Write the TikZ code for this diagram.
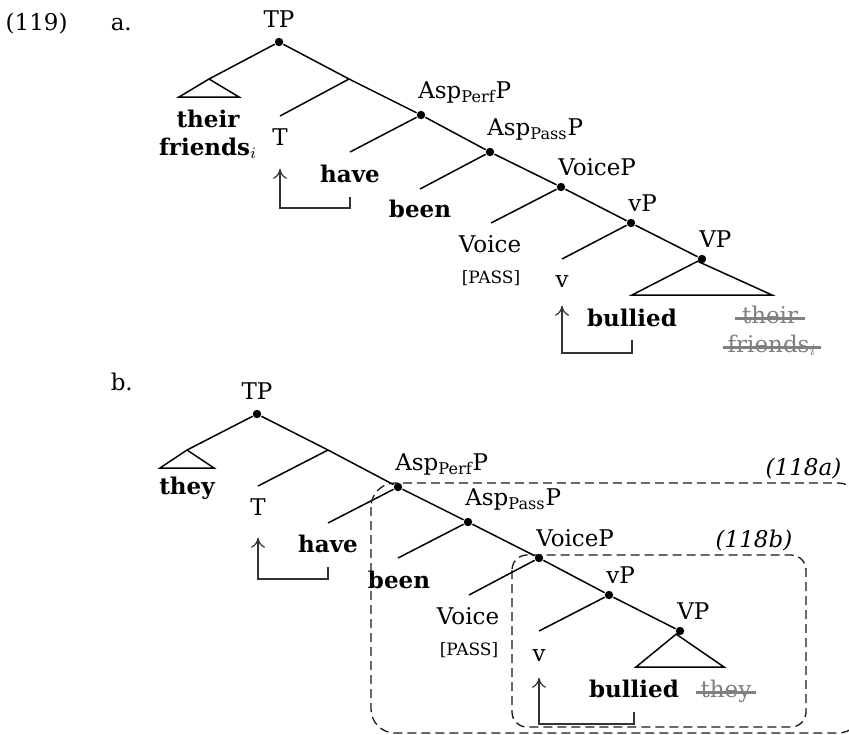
\documentclass[tikz,border=0pt]{standalone}
\usepackage{fontspec}
\setmainfont{DejaVu Serif}
\usetikzlibrary{arrows.meta,positioning}

\begin{document}
\begin{tikzpicture}[x=0.5pt, y=-0.5pt, line width=0.75pt,
    font=\fontsize{11.5}{13.8}\selectfont,
    dot/.style={circle, fill, inner sep=0pt, minimum size=4.2pt},
    cat/.style={inner sep=0pt},
    head/.style={anchor=base, inner sep=0pt},
    lex/.style={anchor=base, inner sep=0pt, font=\fontsize{11.5}{13.8}\selectfont\bfseries},
    feat/.style={anchor=base, inner sep=0pt, font=\fontsize{8.5}{10}\selectfont},
    trace/.style={anchor=base, inner sep=0pt, text=black!50},
    strike/.style={draw=black!50, line width=1.6pt},
    move/.style={draw=black!80, line width=0.6pt, -{To[length=5pt,width=7pt]}},
    phasebox/.style={draw=black!90, line width=0.65pt, dash pattern=on 4.5pt off 2.5pt},
    tag/.style={anchor=base east, inner sep=0pt, font=\fontsize{11.5}{13.8}\selectfont\itshape}]
  \path[use as bounding box] (0,0) rectangle (849,734);
  \clip (0,0) rectangle (849,734);

  % (119a)
  \node[anchor=base west, inner sep=0pt] (num) at (5,30) {(119)};
  \node[anchor=base west, inner sep=0pt] (exA) at (110,30) {a.};
  \node[dot] (tpA) at (279,42) {};
  \node[cat, above=4.5pt of tpA] {TP};
  \coordinate (subjA) at (209,79);
  \coordinate (midA) at (349,79);
  \node[dot] (perfA) at (421,115) {};
  \node[dot] (passA) at (490,152) {};
  \node[dot] (voiceA) at (561,187) {};
  \node[dot] (vpA) at (631,223) {};
  \node[dot] (VPA) at (702,259) {};
  \node[cat, above right=3.5pt and -3.5pt of perfA] {Asp\textsubscript{Perf}P};
  \node[cat, above right=3.5pt and -3.5pt of passA] {Asp\textsubscript{Pass}P};
  \node[cat, above right=3.5pt and -3.5pt of voiceA] {VoiceP};
  \node[cat, above right=3.5pt and -3.5pt of vpA] {vP};
  \node[cat, above right=3.5pt and -3.5pt of VPA] {VP};
  \draw (tpA) -- (midA) -- (perfA) -- (passA) -- (voiceA) -- (vpA) -- (VPA);
  \draw (tpA) -- (subjA);
  \draw (subjA) -- ++(-30,18) -- ++(60,0) -- cycle;
  \draw (VPA) -- ++(-70,36) -- ++(140,0) -- cycle;
  \coordinate (tA) at (280,116);
  \coordinate (haveA) at (350,152);
  \coordinate (beenA) at (420,189);
  \coordinate (voiA) at (491,223);
  \coordinate (vA) at (562,259);
  \draw (midA) -- (tA);
  \draw (perfA) -- (haveA);
  \draw (passA) -- (beenA);
  \draw (voiceA) -- (voiA);
  \draw (vpA) -- (vA);
  \node[lex] (theirA) at (208,127) {their};
  \node[lex] (friendsA) at (208,155) {friends$_i$};
  \node[head] (hTA) at (280,145) {T};
  \node[lex] (hvA) at (350,182) {have};
  \node[lex] (bnA) at (420,217) {been};
  \node[head] (hVoiA) at (490,252) {Voice};
  \node[feat] (passfA) at (491,283) {[PASS]};
  \node[head] (hvvA) at (562,287) {v};
  \node[lex] (bulA) at (632,326) {bullied};
  \node[trace] (trtA) at (770,323) {their};
  \node[trace] (trfA) at (772,352) {friends$_i$};
  \draw[strike] ([shift={(-3pt,2.4pt)}]trtA.base west) -- ([shift={(3pt,2.4pt)}]trtA.base east);
  \draw[strike] ([shift={(-2pt,2.4pt)}]trfA.base west) -- ([shift={(2pt,2.4pt)}]trfA.base east);
  \draw[move] ([yshift=-7pt]hvA.south) -- ++(0,11) -| ([yshift=-11.5pt]hTA.south);
  \draw[move] ([yshift=-6.5pt]bulA.south) -- ++(0,13) -| ([yshift=-9pt]hvvA.south);

  % (119b)
  \node[anchor=base west, inner sep=0pt] (exB) at (110,390) {b.};
  \node[dot] (tpB) at (257,414) {};
  \node[cat, above=4.5pt of tpB] {TP};
  \coordinate (subjB) at (187,450);
  \coordinate (midB) at (328,450);
  \node[dot] (perfB) at (398,487) {};
  \node[dot] (passB) at (468,522) {};
  \node[dot] (voiceB) at (539,558) {};
  \node[dot] (vpB) at (609,595) {};
  \node[dot] (VPB) at (680,631) {};
  \node[cat, above right=3.5pt and -3.5pt of perfB] {Asp\textsubscript{Perf}P};
  \node[cat, above right=3.5pt and -3.5pt of passB] {Asp\textsubscript{Pass}P};
  \node[cat, above right=3.5pt and -3.5pt of voiceB] {VoiceP};
  \node[cat, above right=3.5pt and -3.5pt of vpB] {vP};
  \node[cat, above right=3.5pt and -3.5pt of VPB] {VP};
  \draw (tpB) -- (midB) -- (perfB) -- (passB) -- (voiceB) -- (vpB) -- (VPB);
  \draw (tpB) -- (subjB);
  \draw (subjB) -- ++(-27,18) -- ++(54,0) -- cycle;
  \draw (VPB) -- ++(-44,36) -- ++(88,0) -- cycle;
  \coordinate (tB) at (258,486);
  \coordinate (haveB) at (328,523);
  \coordinate (beenB) at (398,558);
  \coordinate (voiB) at (469,595);
  \coordinate (vB) at (539,631);
  \draw (midB) -- (tB);
  \draw (perfB) -- (haveB);
  \draw (passB) -- (beenB);
  \draw (voiceB) -- (voiB);
  \draw (vpB) -- (vB);
  \node[lex] (theyB) at (187,494) {they};
  \node[head] (hTB) at (258,515) {T};
  \node[lex] (hvB) at (328,552) {have};
  \node[lex] (bnB) at (399,588) {been};
  \node[head] (hVoiB) at (468,624) {Voice};
  \node[feat] (passfB) at (469,655) {[PASS]};
  \node[head] (hvvB) at (539,661) {v};
  \node[lex] (bulB) at (634,697) {bullied};
  \node[trace] (trB) at (726,697) {they};
  \draw[strike] ([shift={(-2pt,2.4pt)}]trB.base west) -- ([shift={(2pt,2.4pt)}]trB.base east);
  \draw[move] ([yshift=-7pt]hvB.south) -- ++(0,12) -| ([yshift=-11pt]hTB.south);
  \draw[move] ([yshift=-7pt]bulB.south) -- ++(0,12) -| ([yshift=-8pt]hvvB.south);

  % phases
  \draw[phasebox, rounded corners=12pt] (371,483) rectangle (862,733);
  \draw[phasebox, rounded corners=7.5pt] (512,555) rectangle (806,727);
  \node[tag] at (842,475) {(118a)};
  \node[tag] at (793,547) {(118b)};
\end{tikzpicture}
\end{document}
